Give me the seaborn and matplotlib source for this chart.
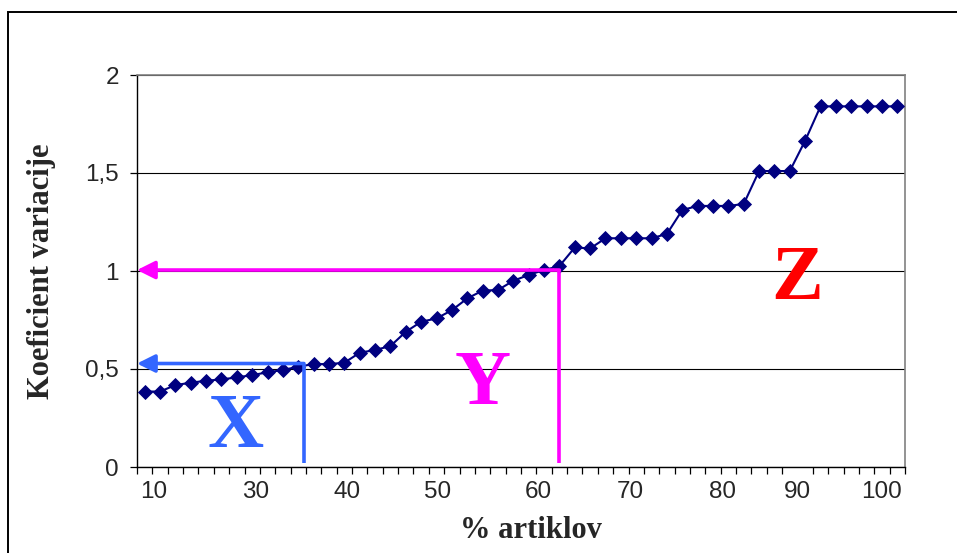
import numpy as np
import pandas as pd
import seaborn as sns
import matplotlib.pyplot as plt
from matplotlib.patches import Rectangle
from matplotlib.ticker import FixedLocator

# ---------------- DATA ----------------
# coefficient of variation per article group (sorted), 50 categories
kv = [0.385, 0.385, 0.418, 0.430, 0.440, 0.447, 0.457, 0.469, 0.483, 0.495,
      0.512, 0.525, 0.525, 0.532, 0.583, 0.597, 0.617, 0.690, 0.741, 0.758,
      0.800, 0.860, 0.900, 0.903, 0.950, 0.980, 1.005, 1.025, 1.120, 1.115,
      1.167, 1.167, 1.167, 1.167, 1.189, 1.311, 1.332, 1.332, 1.332, 1.342,
      1.510, 1.510, 1.510, 1.665, 1.840, 1.840, 1.840, 1.840, 1.840, 1.840]
x_labels = ["10", "30", "40", "50", "60", "70", "80", "90", "100"]
x_label_pos = [0.6, 7.2, 13.2, 19.1, 25.6, 31.6, 37.6, 42.5, 48.0]
y_ticks = [0, 0.5, 1, 1.5, 2]
y_labels = ["0", "0,5", "1", "1,5", "2"]

# zone limits (category position, coefficient) and zone letters
cut_x = [10.37, 27.0]
cut_y = [0.528, 1.005]
cut_colors = ["#3366FF", "#FF00FF"]
zone_names = ["X", "Y", "Z"]
zone_colors = ["#3366FF", "#FF00FF", "#FF0000"]
zone_x = [5.9, 22.0, 42.5]
zone_y = [0.104, 0.321, 0.857]

df = pd.DataFrame({"cat": np.arange(len(kv)), "kv": kv})

# ---------------- STYLE ----------------
sns.set_style("white")
plt.rcParams["font.family"] = ["Liberation Sans", "DejaVu Sans"]

fig = plt.figure(figsize=(9.57, 5.53), dpi=100)
ax = fig.add_axes([137 / 957, 86 / 553, 768 / 957, 392 / 553])

# horizontal grid
ax.yaxis.grid(True, color="black", lw=0.8, zorder=0)
ax.set_axisbelow(True)

sns.lineplot(data=df, x="cat", y="kv", ax=ax, color="#000080", lw=1.5,
             marker="D", markersize=6.8, markeredgecolor="#000080",
             markeredgewidth=0.6, zorder=3)

# zone cut lines with arrows to the y axis
for cx, cy, col in zip(cut_x, cut_y, cut_colors):
    ax.plot([cx, cx], [0.02, cy], color=col, lw=2.6, zorder=4,
            solid_capstyle="butt")
    ax.annotate("", xy=(-0.5, cy), xytext=(cx, cy),
                arrowprops=dict(arrowstyle="-|>", color=col, lw=2.6,
                                mutation_scale=27, shrinkA=0, shrinkB=0),
                zorder=4)

for name, col, zx, zy in zip(zone_names, zone_colors, zone_x, zone_y):
    ax.text(zx, zy, name, color=col, fontsize=56, fontweight="bold",
            family=["Liberation Serif"], ha="center", va="baseline", zorder=5)

# ---------------- AXES ----------------
ax.set_xlim(-0.5, len(kv) - 0.5)
ax.set_ylim(0, 2)
ax.set_yticks(y_ticks)
ax.set_yticklabels(y_labels)
ax.set_xticks(x_label_pos)
ax.set_xticklabels(x_labels)
ax.xaxis.set_minor_locator(FixedLocator(np.arange(-0.5, len(kv))))
ax.tick_params(axis="x", which="major", length=0, pad=10, labelsize=17.5)
ax.tick_params(axis="x", which="minor", length=5, width=0.9, direction="out",
               color="black", bottom=True)
ax.tick_params(axis="y", length=5, width=0.9, direction="out", color="black",
               left=True, pad=8, labelsize=17.5)

for s in ["left", "bottom"]:
    ax.spines[s].set_color("black")
    ax.spines[s].set_linewidth(1.0)
for s in ["top", "right"]:
    ax.spines[s].set_color("#808080")
    ax.spines[s].set_linewidth(1.2)

ax.set_xlabel("% artiklov", fontsize=22, fontweight="bold",
              family=["Liberation Serif"])
ax.set_ylabel("Koeficient variacije", fontsize=22, fontweight="bold",
              family=["Liberation Serif"])
ax.xaxis.set_label_coords(0.513, -0.125)
ax.yaxis.set_label_coords(-0.106, 0.5)

# outer chart frame
fig.patches.append(Rectangle((8 / 957, -0.1), 2, 1.1 - 12 / 553,
                             transform=fig.transFigure, fill=False,
                             ec="black", lw=1.4))

fig.savefig("out.png", dpi=100)
